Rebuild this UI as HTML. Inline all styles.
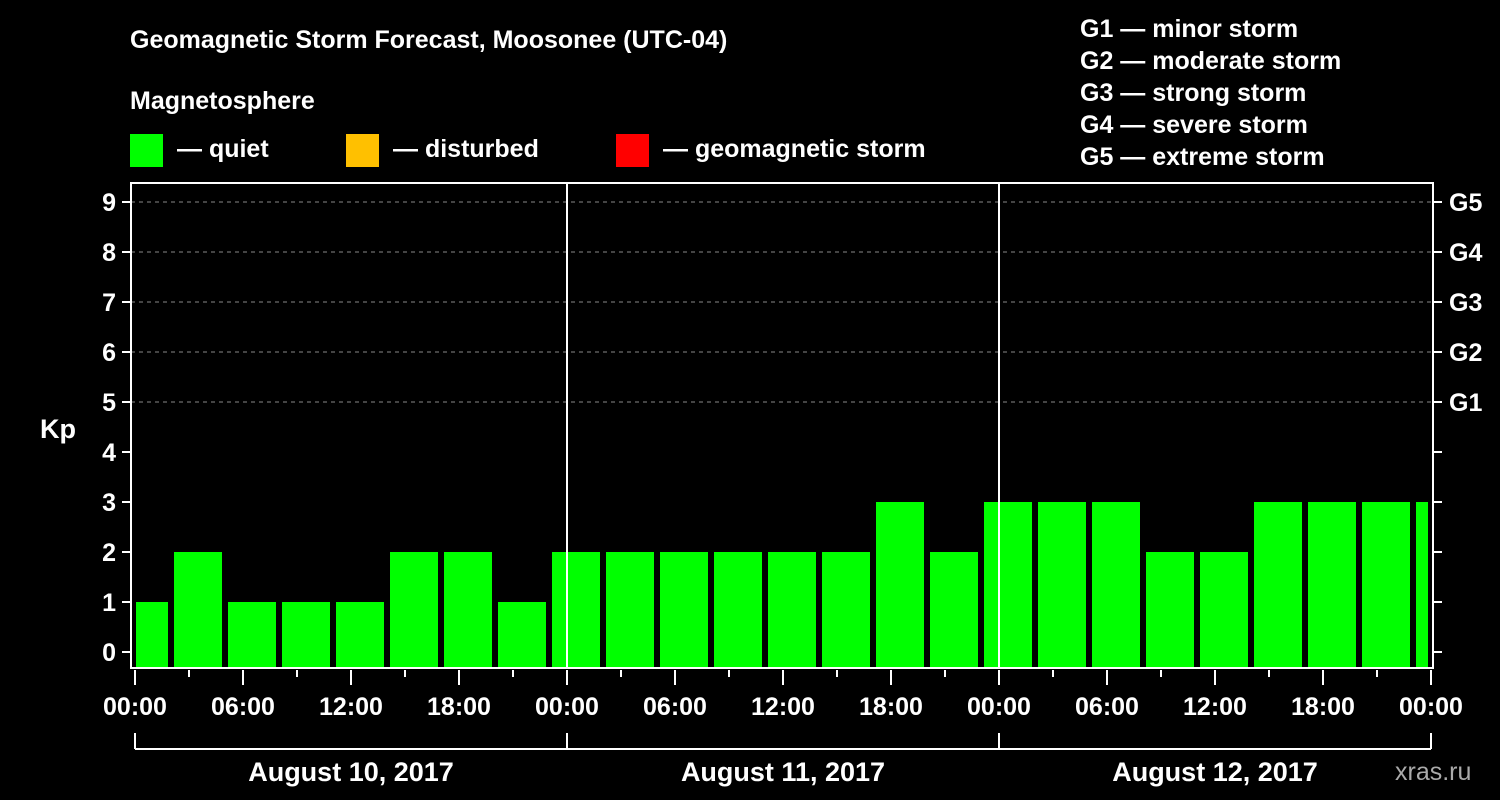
<!DOCTYPE html>
<html><head><meta charset="utf-8"><style>
body{margin:0;background:#000;}
svg{display:block;font-family:"Liberation Sans",Arial,sans-serif;font-weight:bold;}
</style></head><body>
<svg width="1500" height="800" viewBox="0 0 1500 800" id="c">
<rect width="1500" height="800" fill="#000"/>
<text x="130" y="48" fill="#fff" font-size="25">Geomagnetic Storm Forecast, Moosonee (UTC-04)</text>
<text x="130" y="109" fill="#fff" font-size="25">Magnetosphere</text>
<rect x="130" y="134" width="33" height="33" fill="#00ff00"/>
<text x="177" y="157" fill="#fff" font-size="25">— quiet</text>
<rect x="346" y="134" width="33" height="33" fill="#ffc000"/>
<text x="393" y="157" fill="#fff" font-size="25">— disturbed</text>
<rect x="616" y="134" width="33" height="33" fill="#ff0000"/>
<text x="663" y="157" fill="#fff" font-size="25">— geomagnetic storm</text>
<g fill="#fff" font-size="25">
<text x="1080" y="37">G1 — minor storm</text>
<text x="1080" y="69">G2 — moderate storm</text>
<text x="1080" y="101">G3 — strong storm</text>
<text x="1080" y="133">G4 — severe storm</text>
<text x="1080" y="165">G5 — extreme storm</text>
</g>
<text x="40" y="438" fill="#fff" font-size="27">Kp</text>
<text x="1395" y="780" fill="#aaa" font-size="25" font-weight="normal">xras.ru</text>
<g id="grid"></g><g id="bars"></g><g id="axes"></g>
</svg>
<script>
const kpValues=[1,2,1,1,1,2,2,1, 2,2,2,2,2,2,3,2, 3,3,3,2,2,3,3,3, 3];
const yTicks=[0,1,2,3,4,5,6,7,8,9];
const gLabels=["G1","G2","G3","G4","G5"];
const dayLabels=["August 10, 2017","August 11, 2017","August 12, 2017"];
const hourLabels=["00:00","06:00","12:00","18:00"];
const NS="http://www.w3.org/2000/svg";
const X0=135,PXH=18,L=131,R=1433,T=183,B=668;
const xs=h=>X0+h*PXH, ys=v=>652-v*50;
function mk(t,a,p){const e=document.createElementNS(NS,t);for(const k in a)e.setAttribute(k,a[k]);p.appendChild(e);return e;}
const grid=document.getElementById('grid'),bars=document.getElementById('bars'),axes=document.getElementById('axes');
for(let v=5;v<=9;v++){const l=mk('line',{x1:L,x2:R,y1:ys(v),y2:ys(v),stroke:'#888','stroke-width':1,'stroke-dasharray':'4,4'},grid);
}
kpValues.forEach((v,i)=>{let a=xs(3*i-1)+3,b=xs(3*i+2)-3;a=Math.max(a,L+5);b=Math.min(b,R-5);
const c=v>=5?'#ff0000':(v>=4?'#ffc000':'#00ff00');
const r=mk('rect',{x:a,y:ys(v),width:b-a,height:B-ys(v),fill:c},bars);
});
mk('rect',{x:L,y:T,width:R-L,height:B-T,fill:'none',stroke:'#fff','stroke-width':2},axes);
for(let d=1;d<3;d++){const l=mk('line',{x1:xs(24*d),x2:xs(24*d),y1:T,y2:B,stroke:'#fff','stroke-width':2},axes);
}
yTicks.forEach(v=>{mk('line',{x1:122,x2:L,y1:ys(v),y2:ys(v),stroke:'#fff','stroke-width':2},axes);
mk('line',{x1:R,x2:1442,y1:ys(v),y2:ys(v),stroke:'#fff','stroke-width':2},axes);
const t=mk('text',{x:116,y:ys(v)+9,fill:'#fff','font-size':25,'text-anchor':'end'},axes);t.textContent=v;
});
gLabels.forEach((g,i)=>{const t=mk('text',{x:1449,y:ys(5+i)+9,fill:'#fff','font-size':25},axes);t.textContent=g;
});
for(let h=0;h<=72;h+=3){const maj=h%6==0;mk('line',{x1:xs(h),x2:xs(h),y1:B+2,y2:maj?685:677,stroke:'#fff','stroke-width':2},axes);
if(maj){const t=mk('text',{x:xs(h),y:715,fill:'#fff','font-size':25,'text-anchor':'middle'},axes);t.textContent=hourLabels[(h/6)%4];
}}
mk('line',{x1:xs(0),x2:xs(72),y1:749,y2:749,stroke:'#fff','stroke-width':2},axes);
for(let d=0;d<=3;d++)mk('line',{x1:xs(24*d),x2:xs(24*d),y1:733,y2:749,stroke:'#fff','stroke-width':2},axes);
dayLabels.forEach((s,d)=>{const t=mk('text',{x:xs(24*d+12),y:781,fill:'#fff','font-size':27,'text-anchor':'middle'},axes);t.textContent=s;
});
</script>
</body></html>
